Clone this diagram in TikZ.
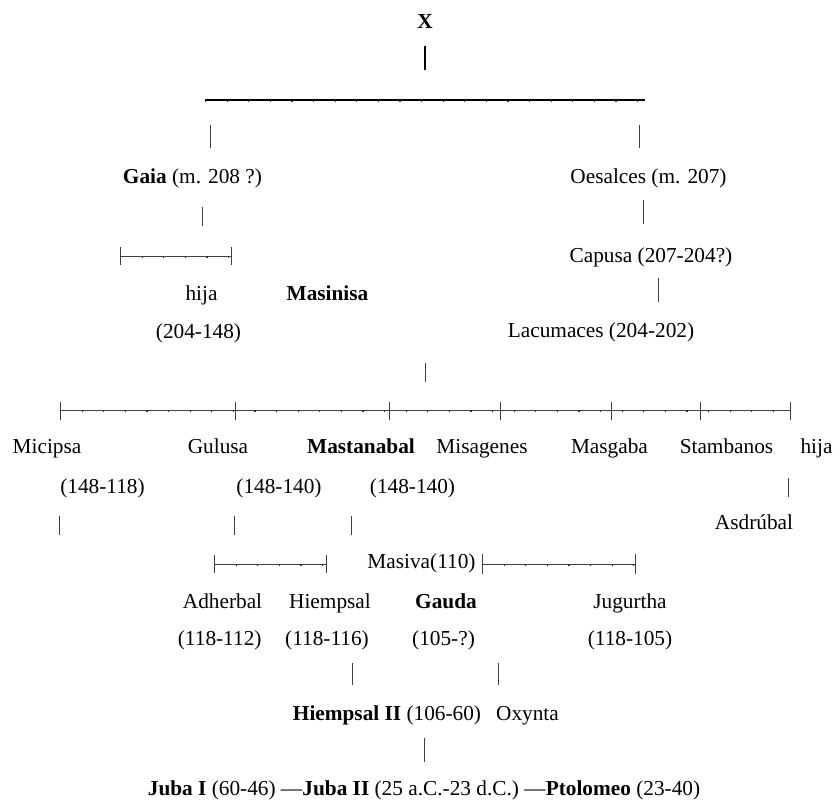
\documentclass[tikz,border=0pt]{standalone}
\usepackage{fontspec}
\setmainfont{Liberation Serif}
\begin{document}
\begin{tikzpicture}[x=1pt,y=-1pt,
  every node/.style={font=\fontsize{21.3}{25}\selectfont, inner sep=0pt, anchor=base},
  bar/.style={draw=black!75, line width=0.9pt},
  thickbar/.style={draw=black, line width=1.8pt},
  dots/.style={draw=black!80, line width=1.2pt, dash pattern=on 1.2pt off 20.4pt}]
\useasboundingbox (0,0) rectangle (839,800);

% ---------- nodes ----------
\node (X) at (425,29) {\bfseries X};
\node (gaia) at (192.5,183) {\textbf{Gaia} (m. 208 ?)};
\node (oesalces) at (648.5,183) {Oesalces (m. 207)};
\node (capusa) at (651,262) {Capusa (207-204?)};
\node (lacumaces) at (601,337) {Lacumaces (204-202)};
\node (hija1) at (201.5,300) {hija};
\node (masinisa) at (327.5,300) {\bfseries Masinisa};
\node (masd) at (198.5,338) {(204-148)};

\node (micipsa) at (47,453) {Micipsa};
\node (gulusa) at (218,453) {Gulusa};
\node (mastanabal) at (361,453) {\bfseries Mastanabal};
\node (misagenes) at (482,453) {Misagenes};
\node (masgaba) at (609.5,453) {Masgaba};
\node (stambanos) at (726.5,453) {Stambanos};
\node (hija2) at (816.5,453) {hija};

\node (micd) at (102.5,493) {(148-118)};
\node (guld) at (279,493) {(148-140)};
\node (mastd) at (412.5,493) {(148-140)};
\node (asdrubal) at (754,529) {Asdrúbal};

\node (masiva) at (421.5,568) {Masiva(110)};
\node (adherbal) at (222.5,608) {Adherbal};
\node (hiempsal) at (330,608) {Hiempsal};
\node (gauda) at (446,608) {\bfseries Gauda};
\node (jugurtha) at (630,608) {Jugurtha};
\node (adhd) at (219.7,645) {(118-112)};
\node (hied) at (327,645) {(118-116)};
\node (gaud) at (443.5,645) {(105-?)};
\node (jugd) at (630,645) {(118-105)};

\node (hiempsal2) at (387,720) {\textbf{Hiempsal II} (106-60)};
\node (oxynta) at (527.5,720) {Oxynta};
\node (juba) at (424,795) {\textbf{Juba I} (60-46) \mbox{}---\textbf{Juba II} (25 a.C.-23 d.C.) \mbox{}---\textbf{Ptolomeo} (23-40)};

% ---------- connector end points ----------
\coordinate (xa) at (425,46);   \coordinate (xb) at (425,70);
\coordinate (ta) at (205,100);  \coordinate (tb) at (645,100);
\coordinate (la) at (210,125);  \coordinate (lb) at (210,148);
\coordinate (ra) at (639,125);  \coordinate (rb) at (639,148);
\coordinate (ga) at (202,207);  \coordinate (gb) at (202,226);
\coordinate (oa) at (643,200);  \coordinate (ob) at (643,224);
\coordinate (s1a) at (120,256); \coordinate (s1b) at (231,256);
\coordinate (ca) at (658,278);  \coordinate (cb) at (658,302);
\coordinate (ma) at (425,363);  \coordinate (mb) at (425,382);
\coordinate (ba) at (60,410);   \coordinate (bb) at (790,410);
\coordinate (v1a) at (59,516);  \coordinate (v1b) at (59,535);
\coordinate (v2a) at (234,516); \coordinate (v2b) at (234,535);
\coordinate (v3a) at (351,516); \coordinate (v3b) at (351,535);
\coordinate (ha) at (788,478);  \coordinate (hb) at (788,497);
\coordinate (s2a) at (214,564); \coordinate (s2b) at (326,564);
\coordinate (s3a) at (482,564); \coordinate (s3b) at (635,564);
\coordinate (w1a) at (352,663); \coordinate (w1b) at (352,685);
\coordinate (w2a) at (498,663); \coordinate (w2b) at (498,685);
\coordinate (za) at (424,738);  \coordinate (zb) at (424,762);

% ---------- connectors ----------
\draw[thickbar] (xa) -- (xb);
\draw[thickbar, line width=1.6pt] (ta) -- (tb);
\draw[dots] ([yshift=-1.2pt]ta) -- ([yshift=-1.2pt]tb);
\draw[bar] (la) -- (lb);
\draw[bar] (ra) -- (rb);
\draw[bar] (ga) -- (gb);
\draw[bar] (oa) -- (ob);
\draw[bar] (ca) -- (cb);
\draw[bar] (ma) -- (mb);

% bracket under Gaia
\draw[bar] (s1a) -- (s1b);
\draw[dots] ([yshift=-1pt]s1a) -- ([yshift=-1pt]s1b);
\foreach \p in {s1a,s1b} \draw[bar] ([yshift=9pt]\p) -- ([yshift=-9pt]\p);

% big bracket of Masinisa's children
\draw[bar] (ba) -- (bb);
\draw[dots] ([yshift=-1pt]ba) -- ([yshift=-1pt]bb);
\foreach \x in {60,235,389,500,611,700,790}
  \draw[bar] (\x,402) -- (\x,420);

\draw[bar] (v1a) -- (v1b);
\draw[bar] (v2a) -- (v2b);
\draw[bar] (v3a) -- (v3b);
\draw[bar] (ha) -- (hb);

% brackets around Masiva
\draw[bar] (s2a) -- (s2b);
\draw[dots] ([yshift=-1pt]s2a) -- ([yshift=-1pt]s2b);
\foreach \p in {s2a,s2b} \draw[bar] ([yshift=9pt]\p) -- ([yshift=-9pt]\p);
\draw[bar] (s3a) -- (s3b);
\draw[dots] ([yshift=-1pt]s3a) -- ([yshift=-1pt]s3b);
\foreach \p in {s3a,s3b} \draw[bar] ([yshift=10pt]\p) -- ([yshift=-10pt]\p);

\draw[bar] (w1a) -- (w1b);
\draw[bar] (w2a) -- (w2b);
\draw[bar] (za) -- (zb);
\end{tikzpicture}
\end{document}
